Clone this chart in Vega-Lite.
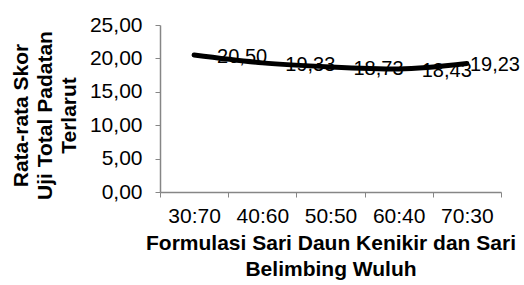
{
  "$schema": "https://vega.github.io/schema/vega-lite/v6.json",
  "width": 341,
  "height": 167,
  "autosize": {"type": "none"},
  "padding": {"left": 160, "top": 25, "right": 23, "bottom": 93},
  "background": "white",
  "config": {
    "view": {"stroke": null},
    "font": "Liberation Sans",
    "locale": {"number": {"decimal": ",", "thousands": ".", "grouping": [3], "currency": ["", ""]}},
    "axis": {"grid": false, "domainColor": "#868686", "tickColor": "#868686", "labelColor": "#000000", "titleColor": "#000000", "labelFont": "Liberation Sans", "titleFont": "Liberation Sans"}
  },
  "data": {
    "values": [
      {"formulasi": "30:70", "skor": 20.50},
      {"formulasi": "40:60", "skor": 19.33},
      {"formulasi": "50:50", "skor": 18.73},
      {"formulasi": "60:40", "skor": 18.43},
      {"formulasi": "70:30", "skor": 19.23}
    ]
  },
  "encoding": {
    "x": {
      "field": "formulasi",
      "type": "nominal",
      "sort": null,
      "bandPosition": 0.5,
      "scale": {"type": "band", "paddingInner": 0, "paddingOuter": 0},
      "axis": {
        "title": ["Formulasi Sari Daun Kenikir dan Sari", "Belimbing Wuluh"],
        "titleFontSize": 21,
        "titleFontWeight": "bold",
        "titleLineHeight": 26,
        "titlePadding": 6,
        "labelAngle": 0,
        "labelFontSize": 21,
        "labelPadding": 8,
        "tickBand": "extent",
        "tickSize": 5,
        "domainWidth": 1.5
      }
    },
    "y": {
      "field": "skor",
      "type": "quantitative",
      "scale": {"domain": [0, 25], "nice": false, "zero": true},
      "axis": {
        "title": ["Rata-rata Skor", "Uji Total Padatan", "Terlarut"],
        "titleFontSize": 21,
        "titleFontWeight": "bold",
        "titleLineHeight": 24,
        "titlePadding": 10,
        "titleY": 90,
        "values": [0, 5, 10, 15, 20, 25],
        "format": ".2f",
        "labelFontSize": 21,
        "labelPadding": 13,
        "tickSize": 5,
        "domainWidth": 1.5
      }
    }
  },
  "layer": [
    {
      "transform": [{"filter": "datum.formulasi != '70:30'"}],
      "mark": {"type": "text", "align": "left", "baseline": "middle", "dx": 23, "dy": 2, "fontSize": 20, "color": "#000000"},
      "encoding": {"text": {"field": "skor", "type": "quantitative", "format": ".2f"}}
    },
    {
      "transform": [{"filter": "datum.formulasi == '70:30'"}],
      "mark": {"type": "text", "align": "left", "baseline": "middle", "dx": 3, "dy": 1, "fontSize": 20, "color": "#000000"},
      "encoding": {"text": {"field": "skor", "type": "quantitative", "format": ".2f"}}
    },
    {
      "mark": {"type": "line", "color": "#000000", "strokeWidth": 5, "interpolate": "monotone", "strokeCap": "round"},
      "encoding": {}
    }
  ]
}
